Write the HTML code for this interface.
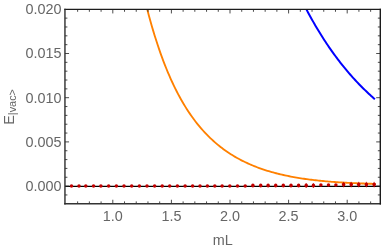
<!DOCTYPE html>
<html><head><meta charset="utf-8"><style>
html,body{margin:0;padding:0;background:#fff;}
svg{display:block;will-change:transform}
text{font-family:"Liberation Sans",sans-serif;fill:#666;}
g.t,text.t{opacity:0.999}
</style></head><body>
<svg width="382" height="250" viewBox="0 0 382 250">

<defs><clipPath id="c"><rect x="64.95" y="9.35" width="315.35" height="194.5"/></clipPath></defs>
<g clip-path="url(#c)" fill="none" stroke-linecap="butt" stroke-linejoin="round">
<path d="M65.0,186.4 L380.3,186.4" stroke="#000" stroke-width="1.25"/>
<path d="M143.00,-8.00 L144.46,-1.83 L145.93,4.11 L147.39,9.85 L148.85,15.39 L150.31,20.74 L151.78,25.89 L153.24,30.88 L154.70,35.69 L156.17,40.33 L157.63,44.82 L159.09,49.16 L160.55,53.35 L162.02,57.40 L163.48,61.31 L164.94,65.10 L166.41,68.76 L167.87,72.30 L169.33,75.72 L170.79,79.04 L172.26,82.24 L173.72,85.34 L175.18,88.35 L176.65,91.25 L178.11,94.07 L179.57,96.79 L181.04,99.43 L182.50,101.99 L183.96,104.46 L185.42,106.86 L186.89,109.18 L188.35,111.44 L189.81,113.62 L191.28,115.73 L192.74,117.78 L194.20,119.77 L195.66,121.70 L197.13,123.57 L198.59,125.38 L200.05,127.14 L201.52,128.85 L202.98,130.50 L204.44,132.11 L205.90,133.67 L207.37,135.18 L208.83,136.64 L210.29,138.07 L211.76,139.45 L213.22,140.79 L214.68,142.10 L216.14,143.36 L217.61,144.59 L219.07,145.78 L220.53,146.94 L222.00,148.06 L223.46,149.16 L224.92,150.22 L226.38,151.25 L227.85,152.25 L229.31,153.22 L230.77,154.16 L232.24,155.08 L233.70,155.97 L235.16,156.84 L236.63,157.68 L238.09,158.50 L239.55,159.29 L241.01,160.06 L242.48,160.81 L243.94,161.54 L245.40,162.25 L246.87,162.94 L248.33,163.61 L249.79,164.26 L251.25,164.89 L252.72,165.50 L254.18,166.10 L255.64,166.68 L257.11,167.24 L258.57,167.79 L260.03,168.32 L261.49,168.83 L262.96,169.34 L264.42,169.82 L265.88,170.30 L267.35,170.76 L268.81,171.20 L270.27,171.64 L271.73,172.06 L273.20,172.47 L274.66,172.86 L276.12,173.25 L277.59,173.62 L279.05,173.99 L280.51,174.34 L281.97,174.68 L283.44,175.02 L284.90,175.34 L286.36,175.65 L287.83,175.96 L289.29,176.25 L290.75,176.54 L292.22,176.82 L293.68,177.09 L295.14,177.35 L296.60,177.60 L298.07,177.85 L299.53,178.09 L300.99,178.32 L302.46,178.54 L303.92,178.76 L305.38,178.97 L306.84,179.17 L308.31,179.37 L309.77,179.56 L311.23,179.75 L312.70,179.93 L314.16,180.10 L315.62,180.27 L317.08,180.43 L318.55,180.59 L320.01,180.74 L321.47,180.89 L322.94,181.03 L324.40,181.17 L325.86,181.31 L327.32,181.43 L328.79,181.56 L330.25,181.68 L331.71,181.80 L333.18,181.91 L334.64,182.02 L336.10,182.12 L337.56,182.22 L339.03,182.32 L340.49,182.41 L341.95,182.50 L343.42,182.59 L344.88,182.68 L346.34,182.76 L347.81,182.84 L349.27,182.91 L350.73,182.98 L352.19,183.06 L353.66,183.12 L355.12,183.19 L356.58,183.25 L358.05,183.31 L359.51,183.37 L360.97,183.42 L362.43,183.48 L363.90,183.53 L365.36,183.58 L366.82,183.62 L368.29,183.67 L369.75,183.71 L371.21,183.76 L372.67,183.80 L374.14,183.83 L375.60,183.87" stroke="#ff8000" stroke-width="1.85"/>
<path d="M302.00,0.80 L303.24,3.25 L304.47,5.67 L305.71,8.05 L306.94,10.40 L308.18,12.71 L309.41,14.99 L310.65,17.24 L311.88,19.45 L313.12,21.63 L314.36,23.79 L315.59,25.91 L316.83,28.00 L318.06,30.06 L319.30,32.09 L320.53,34.09 L321.77,36.07 L323.01,38.01 L324.24,39.93 L325.48,41.82 L326.71,43.69 L327.95,45.52 L329.18,47.34 L330.42,49.12 L331.65,50.88 L332.89,52.62 L334.13,54.33 L335.36,56.02 L336.60,57.68 L337.83,59.32 L339.07,60.94 L340.30,62.53 L341.54,64.11 L342.77,65.66 L344.01,67.18 L345.25,68.69 L346.48,70.18 L347.72,71.64 L348.95,73.09 L350.19,74.51 L351.42,75.92 L352.66,77.31 L353.89,78.67 L355.13,80.02 L356.37,81.35 L357.60,82.66 L358.84,83.95 L360.07,85.23 L361.31,86.48 L362.54,87.72 L363.78,88.95 L365.02,90.15 L366.25,91.34 L367.49,92.52 L368.72,93.67 L369.96,94.81 L371.19,95.94 L372.43,97.05 L373.66,98.15 L374.90,99.23" stroke="#0000ff" stroke-width="2.0"/>
<ellipse cx="71.50" cy="185.90" rx="1.75" ry="1.75" fill="#c20000"/>
<ellipse cx="79.00" cy="185.90" rx="1.75" ry="1.75" fill="#c20000"/>
<ellipse cx="85.80" cy="185.90" rx="1.75" ry="1.75" fill="#c20000"/>
<ellipse cx="93.55" cy="185.90" rx="1.75" ry="1.75" fill="#c20000"/>
<ellipse cx="100.90" cy="185.90" rx="1.75" ry="1.75" fill="#c20000"/>
<ellipse cx="108.65" cy="185.90" rx="1.75" ry="1.75" fill="#c20000"/>
<ellipse cx="116.40" cy="185.90" rx="1.75" ry="1.75" fill="#c20000"/>
<ellipse cx="124.00" cy="185.90" rx="1.75" ry="1.75" fill="#c20000"/>
<ellipse cx="131.70" cy="185.90" rx="1.75" ry="1.75" fill="#c20000"/>
<ellipse cx="139.40" cy="185.90" rx="1.75" ry="1.75" fill="#c20000"/>
<ellipse cx="147.00" cy="185.90" rx="1.75" ry="1.75" fill="#c20000"/>
<ellipse cx="154.60" cy="185.90" rx="1.75" ry="1.75" fill="#c20000"/>
<ellipse cx="162.20" cy="185.90" rx="1.75" ry="1.75" fill="#c20000"/>
<ellipse cx="169.70" cy="185.90" rx="1.75" ry="1.75" fill="#c20000"/>
<ellipse cx="177.40" cy="185.90" rx="1.75" ry="1.75" fill="#c20000"/>
<ellipse cx="185.10" cy="185.90" rx="1.75" ry="1.75" fill="#c20000"/>
<ellipse cx="192.60" cy="185.90" rx="1.75" ry="1.75" fill="#c20000"/>
<ellipse cx="200.00" cy="185.90" rx="1.75" ry="1.75" fill="#c20000"/>
<ellipse cx="207.40" cy="185.90" rx="1.75" ry="1.75" fill="#c20000"/>
<ellipse cx="214.80" cy="185.90" rx="1.75" ry="1.75" fill="#c20000"/>
<ellipse cx="222.10" cy="185.90" rx="1.75" ry="1.75" fill="#c20000"/>
<ellipse cx="229.80" cy="185.90" rx="1.75" ry="1.75" fill="#c20000"/>
<ellipse cx="237.50" cy="185.90" rx="1.75" ry="1.75" fill="#c20000"/>
<ellipse cx="245.20" cy="185.90" rx="1.75" ry="1.75" fill="#c20000"/>
<ellipse cx="252.90" cy="185.50" rx="1.75" ry="2.00" fill="#c20000"/>
<ellipse cx="260.70" cy="185.50" rx="1.75" ry="2.00" fill="#c20000"/>
<ellipse cx="268.10" cy="185.50" rx="1.75" ry="2.00" fill="#c20000"/>
<ellipse cx="275.70" cy="185.50" rx="1.75" ry="2.00" fill="#c20000"/>
<ellipse cx="283.30" cy="185.50" rx="1.75" ry="2.00" fill="#c20000"/>
<ellipse cx="291.00" cy="185.50" rx="1.75" ry="2.00" fill="#c20000"/>
<ellipse cx="298.60" cy="185.50" rx="1.75" ry="2.00" fill="#c20000"/>
<line x1="306.20" y1="183.00" x2="306.20" y2="188.00" stroke="#c20000" stroke-width="0.9" stroke-opacity="0.75"/>
<ellipse cx="306.20" cy="185.50" rx="1.75" ry="2.10" fill="#c20000"/>
<line x1="313.40" y1="183.00" x2="313.40" y2="188.00" stroke="#c20000" stroke-width="0.9" stroke-opacity="0.75"/>
<ellipse cx="313.40" cy="185.50" rx="1.75" ry="2.10" fill="#c20000"/>
<ellipse cx="320.90" cy="185.10" rx="1.75" ry="1.75" fill="#c20000"/>
<ellipse cx="328.50" cy="185.10" rx="1.75" ry="1.75" fill="#c20000"/>
<ellipse cx="335.90" cy="185.10" rx="1.75" ry="1.75" fill="#c20000"/>
<line x1="343.60" y1="181.80" x2="343.60" y2="187.40" stroke="#c20000" stroke-width="0.9" stroke-opacity="0.75"/>
<ellipse cx="343.60" cy="184.60" rx="1.75" ry="2.15" fill="#c20000"/>
<line x1="351.20" y1="181.80" x2="351.20" y2="187.40" stroke="#c20000" stroke-width="0.9" stroke-opacity="0.75"/>
<ellipse cx="351.20" cy="184.60" rx="1.75" ry="2.15" fill="#c20000"/>
<line x1="358.70" y1="181.80" x2="358.70" y2="187.40" stroke="#c20000" stroke-width="0.9" stroke-opacity="0.75"/>
<ellipse cx="358.70" cy="184.60" rx="1.75" ry="2.15" fill="#c20000"/>
<line x1="366.40" y1="181.80" x2="366.40" y2="187.40" stroke="#c20000" stroke-width="0.9" stroke-opacity="0.75"/>
<ellipse cx="366.40" cy="184.60" rx="1.75" ry="2.15" fill="#c20000"/>
<line x1="374.15" y1="181.80" x2="374.15" y2="187.40" stroke="#c20000" stroke-width="0.9" stroke-opacity="0.75"/>
<ellipse cx="374.15" cy="184.60" rx="1.75" ry="2.15" fill="#c20000"/>
</g>
<line x1="77.64" y1="203.85" x2="77.64" y2="201.40" stroke="#2c2c2c" stroke-width="0.85"/>
<line x1="77.64" y1="9.35" x2="77.64" y2="11.80" stroke="#2c2c2c" stroke-width="0.85"/>
<line x1="89.36" y1="203.85" x2="89.36" y2="201.40" stroke="#2c2c2c" stroke-width="0.85"/>
<line x1="89.36" y1="9.35" x2="89.36" y2="11.80" stroke="#2c2c2c" stroke-width="0.85"/>
<line x1="101.08" y1="203.85" x2="101.08" y2="201.40" stroke="#2c2c2c" stroke-width="0.85"/>
<line x1="101.08" y1="9.35" x2="101.08" y2="11.80" stroke="#2c2c2c" stroke-width="0.85"/>
<line x1="112.80" y1="203.85" x2="112.80" y2="199.75" stroke="#2c2c2c" stroke-width="0.85"/>
<line x1="112.80" y1="9.35" x2="112.80" y2="13.45" stroke="#2c2c2c" stroke-width="0.85"/>
<line x1="124.52" y1="203.85" x2="124.52" y2="201.40" stroke="#2c2c2c" stroke-width="0.85"/>
<line x1="124.52" y1="9.35" x2="124.52" y2="11.80" stroke="#2c2c2c" stroke-width="0.85"/>
<line x1="136.24" y1="203.85" x2="136.24" y2="201.40" stroke="#2c2c2c" stroke-width="0.85"/>
<line x1="136.24" y1="9.35" x2="136.24" y2="11.80" stroke="#2c2c2c" stroke-width="0.85"/>
<line x1="147.96" y1="203.85" x2="147.96" y2="201.40" stroke="#2c2c2c" stroke-width="0.85"/>
<line x1="147.96" y1="9.35" x2="147.96" y2="11.80" stroke="#2c2c2c" stroke-width="0.85"/>
<line x1="159.68" y1="203.85" x2="159.68" y2="201.40" stroke="#2c2c2c" stroke-width="0.85"/>
<line x1="159.68" y1="9.35" x2="159.68" y2="11.80" stroke="#2c2c2c" stroke-width="0.85"/>
<line x1="171.40" y1="203.85" x2="171.40" y2="199.75" stroke="#2c2c2c" stroke-width="0.85"/>
<line x1="171.40" y1="9.35" x2="171.40" y2="13.45" stroke="#2c2c2c" stroke-width="0.85"/>
<line x1="183.12" y1="203.85" x2="183.12" y2="201.40" stroke="#2c2c2c" stroke-width="0.85"/>
<line x1="183.12" y1="9.35" x2="183.12" y2="11.80" stroke="#2c2c2c" stroke-width="0.85"/>
<line x1="194.84" y1="203.85" x2="194.84" y2="201.40" stroke="#2c2c2c" stroke-width="0.85"/>
<line x1="194.84" y1="9.35" x2="194.84" y2="11.80" stroke="#2c2c2c" stroke-width="0.85"/>
<line x1="206.56" y1="203.85" x2="206.56" y2="201.40" stroke="#2c2c2c" stroke-width="0.85"/>
<line x1="206.56" y1="9.35" x2="206.56" y2="11.80" stroke="#2c2c2c" stroke-width="0.85"/>
<line x1="218.28" y1="203.85" x2="218.28" y2="201.40" stroke="#2c2c2c" stroke-width="0.85"/>
<line x1="218.28" y1="9.35" x2="218.28" y2="11.80" stroke="#2c2c2c" stroke-width="0.85"/>
<line x1="230.00" y1="203.85" x2="230.00" y2="199.75" stroke="#2c2c2c" stroke-width="0.85"/>
<line x1="230.00" y1="9.35" x2="230.00" y2="13.45" stroke="#2c2c2c" stroke-width="0.85"/>
<line x1="241.72" y1="203.85" x2="241.72" y2="201.40" stroke="#2c2c2c" stroke-width="0.85"/>
<line x1="241.72" y1="9.35" x2="241.72" y2="11.80" stroke="#2c2c2c" stroke-width="0.85"/>
<line x1="253.44" y1="203.85" x2="253.44" y2="201.40" stroke="#2c2c2c" stroke-width="0.85"/>
<line x1="253.44" y1="9.35" x2="253.44" y2="11.80" stroke="#2c2c2c" stroke-width="0.85"/>
<line x1="265.16" y1="203.85" x2="265.16" y2="201.40" stroke="#2c2c2c" stroke-width="0.85"/>
<line x1="265.16" y1="9.35" x2="265.16" y2="11.80" stroke="#2c2c2c" stroke-width="0.85"/>
<line x1="276.88" y1="203.85" x2="276.88" y2="201.40" stroke="#2c2c2c" stroke-width="0.85"/>
<line x1="276.88" y1="9.35" x2="276.88" y2="11.80" stroke="#2c2c2c" stroke-width="0.85"/>
<line x1="288.60" y1="203.85" x2="288.60" y2="199.75" stroke="#2c2c2c" stroke-width="0.85"/>
<line x1="288.60" y1="9.35" x2="288.60" y2="13.45" stroke="#2c2c2c" stroke-width="0.85"/>
<line x1="300.32" y1="203.85" x2="300.32" y2="201.40" stroke="#2c2c2c" stroke-width="0.85"/>
<line x1="300.32" y1="9.35" x2="300.32" y2="11.80" stroke="#2c2c2c" stroke-width="0.85"/>
<line x1="312.04" y1="203.85" x2="312.04" y2="201.40" stroke="#2c2c2c" stroke-width="0.85"/>
<line x1="312.04" y1="9.35" x2="312.04" y2="11.80" stroke="#2c2c2c" stroke-width="0.85"/>
<line x1="323.76" y1="203.85" x2="323.76" y2="201.40" stroke="#2c2c2c" stroke-width="0.85"/>
<line x1="323.76" y1="9.35" x2="323.76" y2="11.80" stroke="#2c2c2c" stroke-width="0.85"/>
<line x1="335.48" y1="203.85" x2="335.48" y2="201.40" stroke="#2c2c2c" stroke-width="0.85"/>
<line x1="335.48" y1="9.35" x2="335.48" y2="11.80" stroke="#2c2c2c" stroke-width="0.85"/>
<line x1="347.20" y1="203.85" x2="347.20" y2="199.75" stroke="#2c2c2c" stroke-width="0.85"/>
<line x1="347.20" y1="9.35" x2="347.20" y2="13.45" stroke="#2c2c2c" stroke-width="0.85"/>
<line x1="358.92" y1="203.85" x2="358.92" y2="201.40" stroke="#2c2c2c" stroke-width="0.85"/>
<line x1="358.92" y1="9.35" x2="358.92" y2="11.80" stroke="#2c2c2c" stroke-width="0.85"/>
<line x1="370.64" y1="203.85" x2="370.64" y2="201.40" stroke="#2c2c2c" stroke-width="0.85"/>
<line x1="370.64" y1="9.35" x2="370.64" y2="11.80" stroke="#2c2c2c" stroke-width="0.85"/>
<line x1="64.95" y1="194.94" x2="67.40" y2="194.94" stroke="#2c2c2c" stroke-width="0.85"/>
<line x1="380.30" y1="194.94" x2="377.85" y2="194.94" stroke="#2c2c2c" stroke-width="0.85"/>
<line x1="64.95" y1="186.10" x2="69.05" y2="186.10" stroke="#2c2c2c" stroke-width="0.85"/>
<line x1="380.30" y1="186.10" x2="376.20" y2="186.10" stroke="#2c2c2c" stroke-width="0.85"/>
<line x1="64.95" y1="177.26" x2="67.40" y2="177.26" stroke="#2c2c2c" stroke-width="0.85"/>
<line x1="380.30" y1="177.26" x2="377.85" y2="177.26" stroke="#2c2c2c" stroke-width="0.85"/>
<line x1="64.95" y1="168.42" x2="67.40" y2="168.42" stroke="#2c2c2c" stroke-width="0.85"/>
<line x1="380.30" y1="168.42" x2="377.85" y2="168.42" stroke="#2c2c2c" stroke-width="0.85"/>
<line x1="64.95" y1="159.58" x2="67.40" y2="159.58" stroke="#2c2c2c" stroke-width="0.85"/>
<line x1="380.30" y1="159.58" x2="377.85" y2="159.58" stroke="#2c2c2c" stroke-width="0.85"/>
<line x1="64.95" y1="150.74" x2="67.40" y2="150.74" stroke="#2c2c2c" stroke-width="0.85"/>
<line x1="380.30" y1="150.74" x2="377.85" y2="150.74" stroke="#2c2c2c" stroke-width="0.85"/>
<line x1="64.95" y1="141.90" x2="69.05" y2="141.90" stroke="#2c2c2c" stroke-width="0.85"/>
<line x1="380.30" y1="141.90" x2="376.20" y2="141.90" stroke="#2c2c2c" stroke-width="0.85"/>
<line x1="64.95" y1="133.06" x2="67.40" y2="133.06" stroke="#2c2c2c" stroke-width="0.85"/>
<line x1="380.30" y1="133.06" x2="377.85" y2="133.06" stroke="#2c2c2c" stroke-width="0.85"/>
<line x1="64.95" y1="124.22" x2="67.40" y2="124.22" stroke="#2c2c2c" stroke-width="0.85"/>
<line x1="380.30" y1="124.22" x2="377.85" y2="124.22" stroke="#2c2c2c" stroke-width="0.85"/>
<line x1="64.95" y1="115.38" x2="67.40" y2="115.38" stroke="#2c2c2c" stroke-width="0.85"/>
<line x1="380.30" y1="115.38" x2="377.85" y2="115.38" stroke="#2c2c2c" stroke-width="0.85"/>
<line x1="64.95" y1="106.54" x2="67.40" y2="106.54" stroke="#2c2c2c" stroke-width="0.85"/>
<line x1="380.30" y1="106.54" x2="377.85" y2="106.54" stroke="#2c2c2c" stroke-width="0.85"/>
<line x1="64.95" y1="97.70" x2="69.05" y2="97.70" stroke="#2c2c2c" stroke-width="0.85"/>
<line x1="380.30" y1="97.70" x2="376.20" y2="97.70" stroke="#2c2c2c" stroke-width="0.85"/>
<line x1="64.95" y1="88.86" x2="67.40" y2="88.86" stroke="#2c2c2c" stroke-width="0.85"/>
<line x1="380.30" y1="88.86" x2="377.85" y2="88.86" stroke="#2c2c2c" stroke-width="0.85"/>
<line x1="64.95" y1="80.02" x2="67.40" y2="80.02" stroke="#2c2c2c" stroke-width="0.85"/>
<line x1="380.30" y1="80.02" x2="377.85" y2="80.02" stroke="#2c2c2c" stroke-width="0.85"/>
<line x1="64.95" y1="71.18" x2="67.40" y2="71.18" stroke="#2c2c2c" stroke-width="0.85"/>
<line x1="380.30" y1="71.18" x2="377.85" y2="71.18" stroke="#2c2c2c" stroke-width="0.85"/>
<line x1="64.95" y1="62.34" x2="67.40" y2="62.34" stroke="#2c2c2c" stroke-width="0.85"/>
<line x1="380.30" y1="62.34" x2="377.85" y2="62.34" stroke="#2c2c2c" stroke-width="0.85"/>
<line x1="64.95" y1="53.50" x2="69.05" y2="53.50" stroke="#2c2c2c" stroke-width="0.85"/>
<line x1="380.30" y1="53.50" x2="376.20" y2="53.50" stroke="#2c2c2c" stroke-width="0.85"/>
<line x1="64.95" y1="44.66" x2="67.40" y2="44.66" stroke="#2c2c2c" stroke-width="0.85"/>
<line x1="380.30" y1="44.66" x2="377.85" y2="44.66" stroke="#2c2c2c" stroke-width="0.85"/>
<line x1="64.95" y1="35.82" x2="67.40" y2="35.82" stroke="#2c2c2c" stroke-width="0.85"/>
<line x1="380.30" y1="35.82" x2="377.85" y2="35.82" stroke="#2c2c2c" stroke-width="0.85"/>
<line x1="64.95" y1="26.98" x2="67.40" y2="26.98" stroke="#2c2c2c" stroke-width="0.85"/>
<line x1="380.30" y1="26.98" x2="377.85" y2="26.98" stroke="#2c2c2c" stroke-width="0.85"/>
<line x1="64.95" y1="18.14" x2="67.40" y2="18.14" stroke="#2c2c2c" stroke-width="0.85"/>
<line x1="380.30" y1="18.14" x2="377.85" y2="18.14" stroke="#2c2c2c" stroke-width="0.85"/>
<g stroke="#1c1c1c" stroke-width="1.4" stroke-linecap="square">
<line x1="64.95" y1="9.35" x2="380.3" y2="9.35" stroke-width="1.35"/>
<line x1="64.95" y1="203.85" x2="380.3" y2="203.85" stroke-width="1.5" stroke="#333"/>
<line x1="64.95" y1="9.35" x2="64.95" y2="203.85" stroke-width="1.4" stroke="#2e2e2e"/>
<line x1="380.3" y1="9.35" x2="380.3" y2="203.85" stroke-width="1.4"/>
</g>
<g class="t" font-size="14.4" text-anchor="end">
<text x="61.5" y="14.25">0.020</text>
<text x="61.5" y="58.45">0.015</text>
<text x="61.5" y="102.65">0.010</text>
<text x="61.5" y="146.85">0.005</text>
<text x="61.5" y="191.05">0.000</text>
</g>
<g class="t" font-size="14.4" text-anchor="middle">
<text x="112.8" y="221.0">1.0</text>
<text x="171.4" y="221.0">1.5</text>
<text x="230.0" y="221.0">2.0</text>
<text x="288.6" y="221.0">2.5</text>
<text x="347.2" y="221.0">3.0</text>
<text x="222.8" y="245.3">mL</text>
</g>
<text class="t" transform="translate(14,124.8) rotate(-90)" font-size="14.4">E<tspan font-size="10.9" dy="1.6">|vac&gt;</tspan></text>
</svg>
</body></html>
